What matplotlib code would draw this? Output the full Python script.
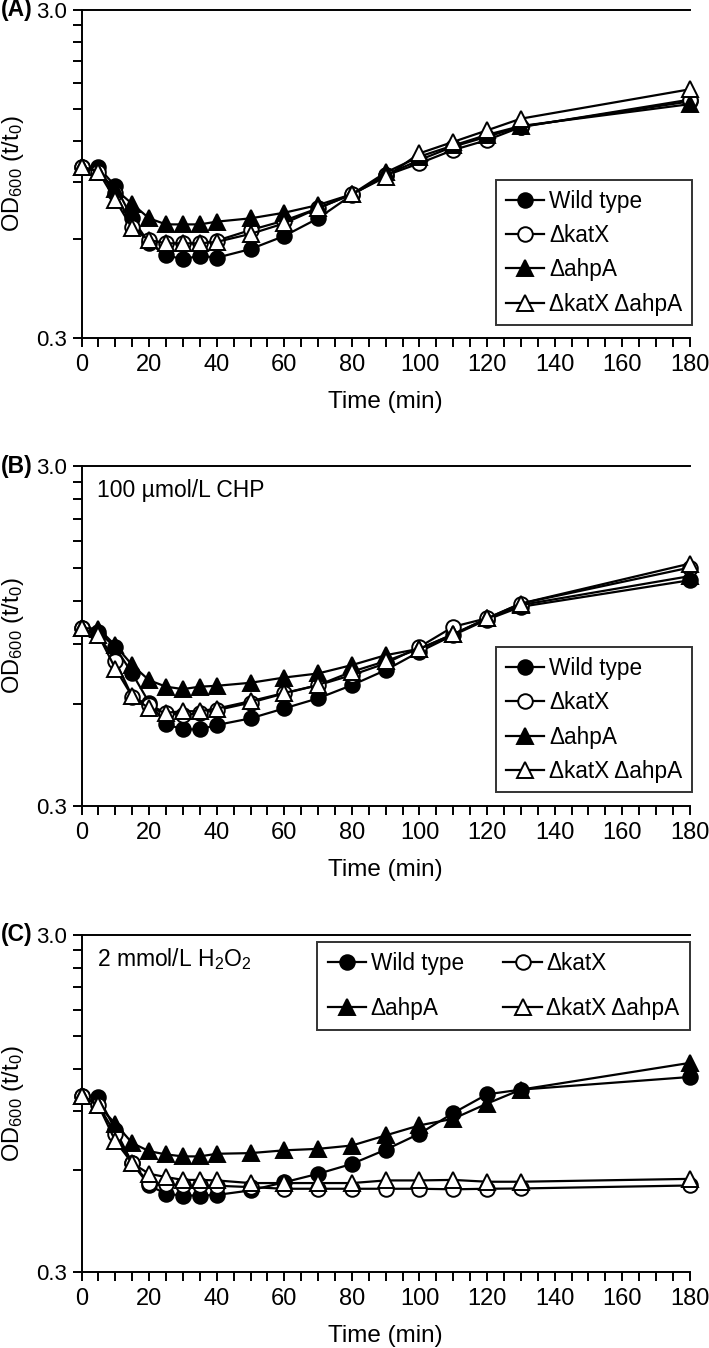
import numpy as np
import matplotlib
matplotlib.use("Agg")
import matplotlib.pyplot as plt
from matplotlib.ticker import FixedLocator, NullFormatter
from matplotlib.lines import Line2D

plt.rcParams['font.family'] = ['Liberation Sans', 'DejaVu Sans']
plt.rcParams['mathtext.fontset'] = 'custom'
plt.rcParams['mathtext.rm'] = 'Liberation Sans'
plt.rcParams['mathtext.it'] = 'Liberation Sans:italic'
plt.rcParams['mathtext.bf'] = 'Liberation Sans:bold'

## Data
time = [0, 5, 10, 15, 20, 25, 30, 35, 40, 50, 60, 70, 80, 90, 100, 110, 120, 130, 180]
strains = ['Wild type', 'ΔkatX', 'ΔahpA', 'ΔkatX ΔahpA']

# (A) untreated
a_wt   = [1.00, 0.995, 0.873, 0.696, 0.584, 0.538, 0.522, 0.536, 0.528, 0.561, 0.615, 0.696, 0.820, 0.943, 1.048, 1.151, 1.234, 1.324, 1.58]
a_katx = [1.00, 0.965, 0.830, 0.656, 0.598, 0.584, 0.584, 0.584, 0.595, 0.641, 0.685, 0.747, 0.824, 0.940, 1.024, 1.124, 1.205, 1.320, 1.60]
a_ahpa = [1.00, 0.965, 0.853, 0.770, 0.696, 0.667, 0.667, 0.667, 0.680, 0.696, 0.724, 0.764, 0.824, 0.960, 1.073, 1.160, 1.250, 1.330, 1.55]
a_dbl  = [1.00, 0.965, 0.791, 0.649, 0.598, 0.584, 0.584, 0.584, 0.590, 0.624, 0.672, 0.747, 0.824, 0.930, 1.098, 1.190, 1.290, 1.400, 1.72]

# (B) 100 umol/L CHP
b_wt   = [1.00, 0.976, 0.878, 0.736, 0.604, 0.522, 0.504, 0.504, 0.519, 0.543, 0.581, 0.622, 0.680, 0.753, 0.853, 0.954, 1.060, 1.156, 1.384]
b_katx = [1.00, 0.954, 0.802, 0.629, 0.594, 0.564, 0.555, 0.564, 0.574, 0.604, 0.643, 0.680, 0.728, 0.788, 0.881, 1.010, 1.070, 1.182, 1.508]
b_ahpa = [1.00, 0.998, 0.890, 0.779, 0.703, 0.673, 0.662, 0.673, 0.677, 0.691, 0.716, 0.736, 0.779, 0.833, 0.870, 0.960, 1.068, 1.170, 1.423]
b_dbl  = [1.00, 0.954, 0.761, 0.630, 0.581, 0.564, 0.570, 0.570, 0.580, 0.610, 0.645, 0.680, 0.745, 0.800, 0.870, 0.960, 1.068, 1.182, 1.549]

# (C) 2 mmol/L H2O2
c_wt   = [1.00, 0.990, 0.792, 0.630, 0.541, 0.511, 0.505, 0.505, 0.507, 0.523, 0.553, 0.586, 0.627, 0.691, 0.771, 0.888, 1.009, 1.042, 1.136]
c_katx = [1.00, 0.936, 0.771, 0.630, 0.550, 0.547, 0.541, 0.541, 0.540, 0.535, 0.529, 0.529, 0.529, 0.529, 0.529, 0.527, 0.529, 0.530, 0.541]
c_ahpa = [1.00, 0.936, 0.825, 0.723, 0.684, 0.669, 0.660, 0.660, 0.672, 0.675, 0.688, 0.695, 0.711, 0.762, 0.816, 0.854, 0.947, 1.042, 1.251]
c_dbl  = [1.00, 0.936, 0.733, 0.630, 0.586, 0.573, 0.562, 0.562, 0.560, 0.550, 0.550, 0.550, 0.550, 0.560, 0.560, 0.562, 0.555, 0.555, 0.566]

panels = ['(A)', '(B)', '(C)']
notes = [None, '100 µmol/L CHP', r'2 mmol/L H$_2$O$_2$']
series = [[a_wt, a_katx, a_ahpa, a_dbl],
          [b_wt, b_katx, b_ahpa, b_dbl],
          [c_wt, c_katx, c_ahpa, c_dbl]]

# marker style per strain: (marker, face)
styles = [('o', 'black'), ('o', 'white'), ('^', 'black'), ('^', 'white')]

def msize(mk):
	return 10.5 if mk == 'o' else 11

## Figure
fig = plt.figure(figsize=(7.09, 13.48), dpi=100)
rects = [[0.115, 0.749, 0.858, 0.2436],
         [0.115, 0.4021, 0.858, 0.2522],
         [0.115, 0.0566, 0.858, 0.2498]]

PX = 0.72  # points per pixel at 100 dpi

for i, rect in enumerate(rects):
	ax = fig.add_axes(rect)
	for vals, (mk, fc) in zip(series[i], styles):
		ax.plot(time, vals, color='black', linewidth=1.6, marker=mk,
				markersize=msize(mk), markerfacecolor=fc,
				markeredgecolor='black', markeredgewidth=1.4, clip_on=False, zorder=3)

	ax.set_yscale('log')
	ax.set_ylim(0.3, 3.0)
	ax.set_xlim(0, 180)
	ax.yaxis.set_major_locator(FixedLocator([0.3, 3.0]))
	ax.yaxis.set_minor_locator(FixedLocator([0.6, 0.9, 1.2, 1.5, 1.8, 2.1, 2.4, 2.7]))
	ax.yaxis.set_minor_formatter(NullFormatter())
	ax.set_yticklabels(['0.3', '3.0'])
	ax.set_xticks(np.arange(0, 181, 20))
	ax.set_xticks(np.arange(0, 181, 5), minor=True)

	ax.spines['right'].set_visible(False)
	for s in ['left', 'bottom', 'top']:
		ax.spines[s].set_linewidth(1.4)
	ax.tick_params(which='both', direction='out', width=1.4, length=6.5, top=False, right=False)
	ax.tick_params(axis='x', labelsize=17, pad=5)
	ax.tick_params(axis='y', labelsize=16, pad=4)

	# axis labels
	ax.annotate('Time (min)', xy=(0.5, 0), xycoords='axes fraction',
				xytext=(0, -64 * PX), textcoords='offset points',
				ha='center', va='center', fontsize=17.5)
	ax.annotate(r'OD$_{\mathrm{600}}$ (t/t$_{\mathrm{0}}$)', xy=(0, 0.5), xycoords='axes fraction',
				xytext=(-69 * PX, 0), textcoords='offset points',
				ha='center', va='center', rotation=90, fontsize=17)
	ax.annotate(panels[i], xy=(0, 1), xycoords='axes fraction',
				xytext=(-81 * PX, 0), textcoords='offset points',
				ha='left', va='center', fontsize=16.5, fontweight='bold')
	if notes[i]:
		ax.annotate(notes[i], xy=(0, 1), xycoords='axes fraction',
					xytext=(15 * PX, -24 * PX), textcoords='offset points',
					ha='left', va='center', fontsize=16.5)

	# legend
	handles = [Line2D([], [], color='black', linewidth=1.6, marker=mk,
					  markersize=msize(mk), markerfacecolor=fc,
					  markeredgecolor='black', markeredgewidth=1.4) for mk, fc in styles]
	if i < 2:
		leg = ax.legend(handles, strains, loc='lower right', bbox_to_anchor=(1.003, 0.04),
						fontsize=16.3, frameon=True, fancybox=False, edgecolor='black',
						handlelength=1.7, handletextpad=0.2, labelspacing=0.5,
						borderpad=0.42, borderaxespad=0)
	else:
		order = [0, 2, 1, 3]
		leg = ax.legend([handles[k] for k in order], [strains[k] for k in order],
						loc='upper right', bbox_to_anchor=(1.0, 0.979), ncol=2,
						fontsize=16.3, frameon=True, fancybox=False, edgecolor='black',
						handlelength=1.7, handletextpad=0.2, labelspacing=0.95,
						columnspacing=1.75, borderpad=0.45, borderaxespad=0)
	leg.get_frame().set_linewidth(1.4)

fig.savefig('out.png', dpi=100)
